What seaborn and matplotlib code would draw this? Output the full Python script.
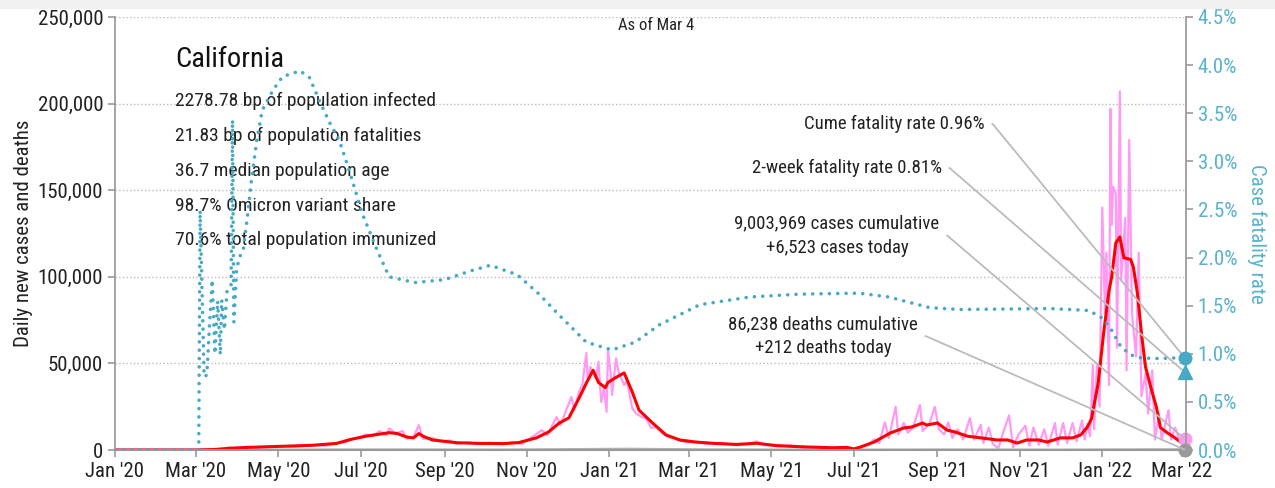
import numpy as np
import pandas as pd
import seaborn as sns
import matplotlib.pyplot as plt
import matplotlib.dates as mdates
from matplotlib.patches import Rectangle

# Datos (California, al 4 de marzo)
case_dates = ["2020-01-01", "2020-02-29", "2020-03-10", "2020-03-20", "2020-03-26", "2020-03-28",
              "2020-04-08", "2020-04-15", "2020-04-22", "2020-05-02", "2020-05-12", "2020-05-26",
              "2020-06-05", "2020-06-13", "2020-06-20", "2020-06-25", "2020-07-01", "2020-07-05",
              "2020-07-10", "2020-07-15", "2020-07-20", "2020-07-22", "2020-07-27", "2020-08-01",
              "2020-08-04", "2020-08-09", "2020-08-13", "2020-08-16", "2020-08-23", "2020-08-30",
              "2020-09-05", "2020-09-10", "2020-09-18", "2020-09-27", "2020-10-05", "2020-10-14",
              "2020-10-21", "2020-10-28", "2020-11-05", "2020-11-12", "2020-11-16", "2020-11-23",
              "2020-11-26", "2020-11-30", "2020-12-04", "2020-12-06", "2020-12-10", "2020-12-12",
              "2020-12-15", "2020-12-16", "2020-12-18", "2020-12-22", "2020-12-24", "2020-12-26",
              "2020-12-28", "2020-12-30", "2020-12-31", "2021-01-02", "2021-01-03", "2021-01-06",
              "2021-01-08", "2021-01-12", "2021-01-14", "2021-01-18", "2021-01-21", "2021-01-25",
              "2021-01-28", "2021-02-01", "2021-02-05", "2021-02-09", "2021-02-14", "2021-02-19",
              "2021-02-26", "2021-03-06", "2021-03-15", "2021-03-25", "2021-04-05", "2021-04-15",
              "2021-04-20", "2021-04-25", "2021-05-05", "2021-05-15", "2021-05-25", "2021-06-05",
              "2021-06-15", "2021-06-25", "2021-07-01", "2021-07-06", "2021-07-12", "2021-07-16",
              "2021-07-20", "2021-07-24", "2021-07-27", "2021-08-01", "2021-08-03", "2021-08-07",
              "2021-08-10", "2021-08-14", "2021-08-19", "2021-08-21", "2021-08-26", "2021-08-30",
              "2021-09-02", "2021-09-06", "2021-09-09", "2021-09-12", "2021-09-16", "2021-09-20",
              "2021-09-25", "2021-09-28", "2021-10-03", "2021-10-05", "2021-10-09", "2021-10-12",
              "2021-10-16", "2021-10-20", "2021-10-24", "2021-10-27", "2021-10-31", "2021-11-05",
              "2021-11-08", "2021-11-11", "2021-11-15", "2021-11-19", "2021-11-22", "2021-11-27",
              "2021-11-29", "2021-12-03", "2021-12-06", "2021-12-10", "2021-12-13", "2021-12-17",
              "2021-12-19", "2021-12-21", "2021-12-23", "2021-12-25", "2021-12-26", "2021-12-28",
              "2021-12-30", "2022-01-01", "2022-01-03", "2022-01-04", "2022-01-06", "2022-01-07",
              "2022-01-08", "2022-01-09", "2022-01-11", "2022-01-12", "2022-01-14", "2022-01-15",
              "2022-01-18", "2022-01-19", "2022-01-21", "2022-01-23", "2022-01-26", "2022-01-28",
              "2022-01-30", "2022-02-02", "2022-02-04", "2022-02-07", "2022-02-09", "2022-02-12",
              "2022-02-14", "2022-02-19", "2022-02-21", "2022-02-24", "2022-02-27", "2022-03-03"]
daily_cases = [0, 0, 100, 600, 1500, 800,
               1800, 1200, 2000, 2300, 1800, 2900,
               2500, 4000, 4500, 6500, 7500, 9000,
               8000, 11000, 8500, 12500, 9500, 11000,
               6500, 7500, 14400, 6500, 7000, 5000,
               5500, 3500, 4500, 3500, 4200, 3300,
               4500, 3500, 7500, 11500, 8700, 19000,
               14400, 23000, 30600, 23000, 34600, 37500,
               56000, 40000, 48000, 41500, 51000, 27700,
               36000, 22000, 57700, 44500, 31800, 53000,
               44500, 37500, 40000, 24000, 21000, 19000,
               18500, 12700, 13300, 9800, 7500, 7000,
               4600, 4600, 3500, 4200, 2800, 3600,
               5000, 3000, 2300, 2600, 1500, 1800,
               1000, 1600, 600, 2000, 3000, 6000,
               4000, 16000, 7000, 25000, 9000, 15600,
               10000, 13000, 26000, 11000, 15000, 25000,
               12000, 9000, 16000, 7000, 12000, 6000,
               18500, 6000, 14500, 4000, 13000, 3500,
               1000, 11000, 20000, 1500, 9000, 14000,
               2500, 13000, 3000, 12000, 2500, 15600,
               3000, 15600, 4000, 15600, 5000, 17000,
               6000, 15000, 8000, 49000, 12000, 49000,
               25000, 140000, 79000, 114000, 37500, 197000,
               130000, 152000, 148000, 59000, 207000, 98000,
               134000, 46000, 179000, 79000, 54000, 114000,
               31000, 44000, 21000, 46000, 6000, 21000,
               6000, 23000, 6000, 13000, 6000, 6523]

avg_dates = ["2020-01-01", "2020-03-01", "2020-03-15", "2020-03-26", "2020-04-08", "2020-05-02",
             "2020-05-26", "2020-06-13", "2020-06-23", "2020-07-05", "2020-07-22", "2020-07-28",
             "2020-08-04", "2020-08-09", "2020-08-13", "2020-08-16", "2020-08-23", "2020-09-10",
             "2020-09-27", "2020-10-15", "2020-10-26", "2020-11-08", "2020-11-17", "2020-11-25",
             "2020-12-02", "2020-12-10", "2020-12-15", "2020-12-20", "2020-12-24", "2020-12-29",
             "2020-12-31", "2021-01-05", "2021-01-12", "2021-01-18", "2021-01-23", "2021-02-02",
             "2021-02-12", "2021-02-22", "2021-03-06", "2021-03-20", "2021-04-05", "2021-04-20",
             "2021-05-05", "2021-05-25", "2021-06-15", "2021-06-26", "2021-07-01", "2021-07-06",
             "2021-07-16", "2021-07-28", "2021-08-07", "2021-08-13", "2021-08-21", "2021-08-24",
             "2021-09-01", "2021-09-08", "2021-09-14", "2021-09-23", "2021-10-03", "2021-10-15",
             "2021-10-23", "2021-10-30", "2021-11-06", "2021-11-15", "2021-11-21", "2021-12-01",
             "2021-12-10", "2021-12-16", "2021-12-21", "2021-12-24", "2021-12-29", "2022-01-02",
             "2022-01-06", "2022-01-08", "2022-01-11", "2022-01-14", "2022-01-17", "2022-01-22",
             "2022-01-24", "2022-01-27", "2022-01-30", "2022-02-02", "2022-02-06", "2022-02-10",
             "2022-02-13", "2022-02-18", "2022-02-23", "2022-02-28", "2022-03-03"]
avg_cases = [0, 0, 300, 1000, 1500, 2100,
             2700, 3800, 6000, 8000, 10000, 9500,
             7500, 7000, 9500, 8000, 5800, 4200,
             3800, 3700, 4300, 7000, 10400, 15600,
             18500, 30600, 38700, 46000, 39000, 36000,
             39000, 41500, 44500, 33500, 23000, 15600,
             8700, 5800, 4600, 3800, 3200, 3900,
             2500, 1800, 1300, 1500, 600, 1700,
             4600, 9800, 12700, 13300, 15600, 14400,
             15600, 11500, 10400, 8000, 7000, 5800,
             5800, 4000, 5800, 5800, 4600, 7000,
             7000, 8700, 13300, 18000, 38700, 67500,
             92000, 100000, 119500, 123000, 111000, 110000,
             105700, 90600, 67500, 48000, 36000, 25000,
             13000, 10000, 7500, 4600, 4000]

death_dates = ["2020-01-01", "2020-03-15", "2020-04-15", "2020-08-01", "2020-10-15", "2021-01-15",
               "2021-03-15", "2021-06-15", "2021-09-01", "2021-12-01", "2022-02-01", "2022-03-03"]
daily_deaths = [0, 10, 80, 130, 60, 550, 150, 20, 120, 50, 200, 212]

cfr_dates = ["2020-01-01", "2020-03-03", "2020-03-04", "2020-03-07", "2020-03-09", "2020-03-11",
             "2020-03-13", "2020-03-15", "2020-03-17", "2020-03-19", "2020-03-20", "2020-03-22",
             "2020-03-24", "2020-03-27", "2020-03-28", "2020-03-29", "2020-03-31", "2020-04-02",
             "2020-04-05", "2020-04-08", "2020-04-11", "2020-04-15", "2020-04-19", "2020-04-27",
             "2020-05-04", "2020-05-17", "2020-05-24", "2020-06-01", "2020-06-08", "2020-06-15",
             "2020-06-23", "2020-07-02", "2020-07-13", "2020-07-22", "2020-08-10", "2020-09-01",
             "2020-09-20", "2020-10-05", "2020-10-25", "2020-11-10", "2020-11-25", "2020-12-15",
             "2021-01-03", "2021-01-20", "2021-02-07", "2021-03-09", "2021-04-15", "2021-05-22",
             "2021-07-05", "2021-07-27", "2021-08-26", "2021-09-17", "2021-11-23", "2021-12-22",
             "2021-12-31", "2022-01-04", "2022-01-07", "2022-01-12", "2022-01-15", "2022-01-22",
             "2022-01-28", "2022-02-09", "2022-03-03"]
cfr_pct = [0, 0, 2.49, 0.76, 0.78, 1.30,
           1.77, 1.00, 1.55, 0.99, 1.56, 1.25,
           1.66, 1.72, 3.43, 1.33, 1.87, 2.00,
           2.08, 2.42, 2.80, 3.22, 3.53, 3.74,
           3.88, 3.94, 3.87, 3.61, 3.40, 3.22,
           2.88, 2.46, 2.08, 1.80, 1.74, 1.77,
           1.86, 1.92, 1.82, 1.62, 1.40, 1.12,
           1.04, 1.12, 1.30, 1.51, 1.59, 1.62,
           1.63, 1.59, 1.48, 1.46, 1.47, 1.45,
           1.38, 1.32, 1.27, 1.14, 1.07, 0.99,
           0.96, 0.95, 0.96]

two_week_cfr = 0.81
cases_today = 6523
deaths_today = 212
last_day = "2022-03-03"

stats_lines = ["2278.78 bp of population infected",
               "21.83 bp of population fatalities",
               "36.7 median population age",
               "98.7% Omicron variant share",
               "70.6% total population immunized"]

pink = "#ff99f3"
red = "#ff0000"
teal = "#46a9c5"
teal_txt = "#5ab3cd"
gray = "#999999"
lead = "#bbbbbb"

sns.set_theme(style="white")
plt.rcParams['font.family'] = ['Roboto Condensed', 'DejaVu Sans']

df_cases = pd.DataFrame({"fecha": pd.to_datetime(case_dates), "casos": daily_cases})
df_avg = pd.DataFrame({"fecha": pd.to_datetime(avg_dates), "casos": avg_cases})
df_deaths = pd.DataFrame({"fecha": pd.to_datetime(death_dates), "muertes": daily_deaths})
df_cfr = pd.DataFrame({"fecha": pd.to_datetime(cfr_dates), "cfr": cfr_pct})
fin = pd.Timestamp(last_day)

fig = plt.figure(figsize=(12.75, 4.88), dpi=100)
fig.patches.append(Rectangle((0, 1 - 8 / 488), 1, 8 / 488, transform=fig.transFigure,
                             color="#f0f0f0", zorder=0))
ax = fig.add_axes([115 / 1275, 38 / 488, 1071 / 1275, 433 / 488])
ax.set_facecolor("none")

sns.lineplot(data=df_cases, x="fecha", y="casos", ax=ax, color=pink, lw=1.6)
sns.lineplot(data=df_deaths, x="fecha", y="muertes", ax=ax, color="#b0b0b0", lw=2)
sns.lineplot(data=df_avg, x="fecha", y="casos", ax=ax, color=red, lw=2.2)
ax.plot([fin], [cases_today], "o", color=pink, ms=9, clip_on=False, zorder=5)
ax.plot([fin], [deaths_today], "o", color=gray, ms=9, clip_on=False, zorder=5)

ax.set_xlim(pd.Timestamp("2020-01-01"), pd.Timestamp("2022-03-04"))
ax.set_ylim(0, 250000)
ax.set_yticks(np.arange(0, 250001, 50000))
ax.yaxis.set_major_formatter(plt.FuncFormatter(lambda v, p: f"{int(v):,}"))
ax.xaxis.set_major_locator(mdates.MonthLocator(bymonth=[1, 3, 5, 7, 9, 11]))
ax.xaxis.set_major_formatter(mdates.DateFormatter("%b '%y"))
ax.grid(axis="y", color="#bbbbbb", linestyle=":", lw=1)
ax.set_xlabel("")
ax.set_ylabel("Daily new cases and deaths", fontsize=15, color="#222222")
ax.yaxis.set_label_coords(-0.077, 0.5)
ax.tick_params(axis="both", labelsize=15, labelcolor="#222222", color=gray, length=5, width=1.2,
               direction="out", left=True, bottom=True)
for s in ["top", "right"]:
    ax.spines[s].set_visible(False)
ax.spines["left"].set_color(gray)
ax.spines["bottom"].set_color(gray)
ax.spines["bottom"].set_linewidth(1.5)

ax2 = ax.twinx()
sns.lineplot(data=df_cfr, x="fecha", y="cfr", ax=ax2, color=teal, lw=2.6, linestyle=(0, (0.01, 2.3)))
ax2.lines[-1].set_dash_capstyle("round")
ax2.plot([fin], [cfr_pct[-1]], "o", color=teal, ms=9, clip_on=False, zorder=5)
ax2.plot([fin], [two_week_cfr], "^", color=teal, ms=10, clip_on=False, zorder=5)
ax2.set_ylim(0, 4.5)
ax2.set_yticks(np.arange(0, 4.51, 0.5))
ax2.yaxis.set_major_formatter(plt.FuncFormatter(lambda v, p: f"{v:.1f}%"))
ax2.set_ylabel("Case fatality rate", fontsize=15, color=teal_txt, rotation=270, va="center")
ax2.yaxis.set_label_coords(1.066, 0.5)
ax2.tick_params(axis="y", labelsize=15, labelcolor=teal_txt, color=gray, length=5, width=1.2, right=True)
for s in ["top", "left", "bottom"]:
    ax2.spines[s].set_visible(False)
ax2.spines["right"].set_color(gray)
ax2.grid(False)

# Titulo y estadisticas
ax.text(0.056, 0.901, "California", transform=ax.transAxes, fontsize=20.5, va="center", ha="left",
        color="#111111")
for i, linea in enumerate(stats_lines):
    ax.text(0.056, 0.806 - i * 0.0805, linea, transform=ax.transAxes, fontsize=14,
            va="center", ha="left", color="#222222")
ax.text(0.505, 0.98, "As of Mar 4", transform=ax.transAxes, fontsize=12, ha="center", va="center",
        color="#222222")

# Anotaciones con lineas guia
flecha = dict(arrowstyle="-", color=lead, lw=1.3, shrinkA=3, shrinkB=0, relpos=(1, 0.5),
              connectionstyle="arc,angleA=0,armA=8,angleB=0,armB=0,rad=0")
notas = dict(textcoords="axes fraction", va="center", fontsize=13.5, color="#222222", arrowprops=flecha)
ax2.annotate(f"Cume fatality rate {cfr_pct[-1]:.2f}%", xy=(fin, cfr_pct[-1]),
             xytext=(0.812, 0.753), ha="right", **notas)
ax2.annotate(f"2-week fatality rate {two_week_cfr:.2f}%", xy=(fin, two_week_cfr),
             xytext=(0.772, 0.651), ha="right", **notas)
ax2.annotate(f"9,003,969 cases cumulative\n+{cases_today:,} cases today", xy=(fin, cases_today * 4.5 / 250000),
             xytext=(0.674, 0.495), ha="center", multialignment="center", linespacing=1.45, **notas)
ax2.annotate(f"86,238 deaths cumulative\n+{deaths_today:,} deaths today", xy=(fin, deaths_today * 4.5 / 250000),
             xytext=(0.661, 0.263), ha="center", multialignment="center", linespacing=1.45, **notas)

fig.savefig("out.png", dpi=100)
